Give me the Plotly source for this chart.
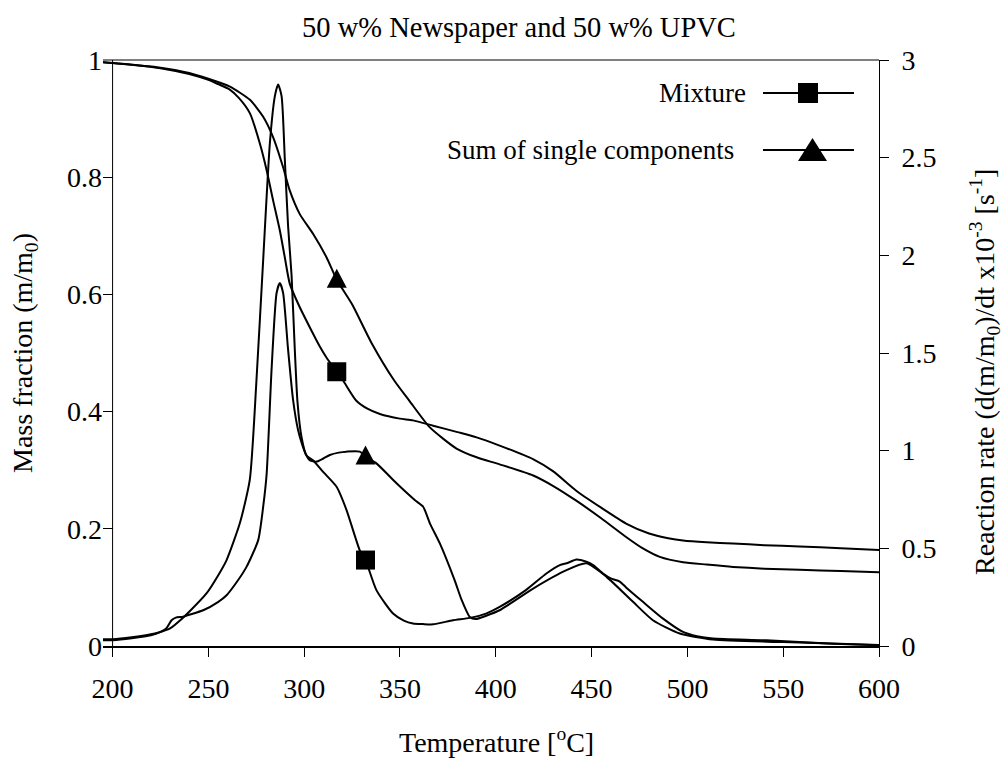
import numpy as np
import plotly.graph_objects as go

# ---- TG curves: mass fraction m/m0 vs temperature (degC) ----
T_mass_mix = [195, 210, 225, 240, 250, 255, 261, 266, 271.7, 276.9, 280.4, 283.8,
              287.3, 289.9, 292.5, 297.7, 302.9, 308, 311.7, 317, 320.3, 327.1,
              333, 339.5, 349.9, 356.8, 367.3, 380, 390, 402, 419.4, 430, 442,
              455, 468, 480, 490, 497.7, 510, 523.8, 540, 558.6, 580, 600]
mass_mix = [0.996, 0.992, 0.986, 0.976, 0.966, 0.959, 0.950, 0.935, 0.909, 0.857,
            0.812, 0.760, 0.709, 0.663, 0.618, 0.578, 0.544, 0.512, 0.492, 0.468,
            0.453, 0.419, 0.405, 0.396, 0.388, 0.385, 0.376, 0.365, 0.356, 0.342,
            0.319, 0.298, 0.265, 0.236, 0.209, 0.192, 0.184, 0.180, 0.177, 0.175,
            0.172, 0.170, 0.167, 0.164]

T_mass_sum = [195, 210, 225, 240, 250, 261, 271.7, 278.6, 283.8, 289, 292.5,
              297.7, 304.7, 311.7, 317, 325, 335, 347, 355, 365.6, 379.5, 390,
              402, 419.5, 430, 442, 455, 468, 477, 485.6, 497.7, 510, 523.8, 540,
              558.6, 580, 600]
mass_sum = [0.996, 0.992, 0.987, 0.978, 0.968, 0.955, 0.932, 0.903, 0.868, 0.817,
            0.777, 0.737, 0.703, 0.663, 0.625, 0.583, 0.518, 0.453, 0.418, 0.373,
            0.337, 0.322, 0.310, 0.291, 0.273, 0.248, 0.218, 0.186, 0.166, 0.152,
            0.143, 0.139, 0.135, 0.132, 0.130, 0.128, 0.126]

# ---- DTG curves: reaction rate d(m/m0)/dt x10^-3 [1/s] ----
T_rate_mix = [195, 200, 210, 220, 225, 230, 236.8, 240, 249, 255, 259.5, 266.4,
              271.6, 275.1, 278.6, 282.1, 284.7, 286.4, 288.2, 289.9, 291.6,
              293.4, 295.1, 296.5, 298.6, 301.2, 304.7, 310, 316.9, 322.1, 329,
              332, 337.7, 346.4, 352, 356.8, 362, 367.3, 377.7, 386.4, 394.9, 402,
              415.7, 426.4, 433.4, 437.5, 442.1, 447.3, 450.8, 456, 460, 464.7,
              468, 476.8, 487.3, 497.7, 505, 513.4, 541.2, 576, 600]
rate_mix = [0.035, 0.035, 0.045, 0.060, 0.072, 0.090, 0.145, 0.175, 0.269, 0.360,
            0.440, 0.628, 0.850, 1.362, 1.977, 2.576, 2.815, 2.875, 2.815, 2.490,
            2.149, 1.900, 1.517, 1.250, 1.070, 0.975, 0.950, 0.890, 0.815, 0.696,
            0.490, 0.440, 0.286, 0.166, 0.130, 0.115, 0.112, 0.111, 0.132, 0.144,
            0.166, 0.200, 0.286, 0.371, 0.414, 0.425, 0.443, 0.431, 0.414, 0.371,
            0.346, 0.330, 0.300, 0.226, 0.140, 0.072, 0.050, 0.038, 0.029, 0.012,
            0.004]

T_rate_sum = [195, 200, 210, 220, 225, 228, 230.8, 233, 236.8, 240, 247.3, 255,
              259.5, 265, 269.9, 276, 278.6, 280.4, 283, 285.6, 287.3, 289, 291.6,
              294.2, 296.8, 299, 301.2, 303, 306.4, 310, 313.4, 318, 322.1, 329,
              332, 337.7, 348.2, 358, 362.1, 365.6, 370.8, 378.5, 382, 386.4,
              389.5, 395, 402, 419.5, 436.9, 447.3, 457.8, 471.6, 482, 496, 513.4,
              550, 600]
rate_sum = [0.030, 0.030, 0.040, 0.055, 0.072, 0.090, 0.132, 0.145, 0.150, 0.160,
            0.183, 0.225, 0.260, 0.330, 0.405, 0.542, 0.713, 0.880, 1.420, 1.807,
            1.858, 1.807, 1.517, 1.260, 1.106, 1.030, 0.975, 0.950, 0.944, 0.960,
            0.978, 0.990, 0.995, 0.995, 0.970, 0.935, 0.833, 0.745, 0.713, 0.628,
            0.525, 0.337, 0.240, 0.149, 0.138, 0.155, 0.183, 0.294, 0.388, 0.423,
            0.354, 0.226, 0.132, 0.064, 0.033, 0.020, 0.005]

# temperatures at which series symbols sit on the curves
mark_T_mass = 317
mark_T_rate = 332

x_ticks = [200, 250, 300, 350, 400, 450, 500, 550, 600]
y_left_ticks = [0, 0.2, 0.4, 0.6, 0.8, 1]
y_left_labels = ["0", "0.2", "0.4", "0.6", "0.8", "1"]
y_right_ticks = [0, 0.5, 1, 1.5, 2, 2.5, 3]
y_right_labels = ["0", "0.5", "1", "1.5", "2", "2.5", "3"]

FONT = "Liberation Serif"
LINE = dict(color="black", width=2, shape="spline", smoothing=0.6)

fig = go.Figure()
fig.add_trace(go.Scatter(x=T_mass_mix, y=mass_mix, mode="lines", line=LINE, yaxis="y"))
fig.add_trace(go.Scatter(x=T_mass_sum, y=mass_sum, mode="lines", line=LINE, yaxis="y"))
fig.add_trace(go.Scatter(x=T_rate_mix, y=rate_mix, mode="lines", line=LINE, yaxis="y2"))
fig.add_trace(go.Scatter(x=T_rate_sum, y=rate_sum, mode="lines", line=LINE, yaxis="y2"))

# square symbols on the mixture curves
fig.add_trace(go.Scatter(x=[mark_T_mass], y=[np.interp(mark_T_mass, T_mass_mix, mass_mix)],
                         mode="markers", yaxis="y",
                         marker=dict(symbol="square", size=19, color="black")))
fig.add_trace(go.Scatter(x=[mark_T_rate], y=[np.interp(mark_T_rate, T_rate_mix, rate_mix)],
                         mode="markers", yaxis="y2",
                         marker=dict(symbol="square", size=19, color="black")))

shapes = []


def triangle(xanchor, yanchor, xref, yref, half_w, up, down):
    return dict(type="path", xref=xref, yref=yref, xsizemode="pixel", ysizemode="pixel",
                xanchor=xanchor, yanchor=yanchor,
                path=f"M{-half_w},{-down} L{half_w},{-down} L0,{up} Z",
                fillcolor="black", line=dict(color="black", width=0))


# triangle symbols on the summed-component curves
shapes.append(triangle(mark_T_mass, float(np.interp(mark_T_mass, T_mass_sum, mass_sum)),
                       "x", "y", 10, 11, 8))
shapes.append(triangle(mark_T_rate, float(np.interp(mark_T_rate, T_rate_sum, rate_sum)),
                       "x", "y2", 10, 11, 8))

# y-axis line at the first temperature tick and top frame line
shapes.append(dict(type="line", xref="x", yref="paper", x0=200, x1=200, y0=0, y1=1,
                   line=dict(color="black", width=1)))
shapes.append(dict(type="line", xref="paper", yref="paper", x0=0, x1=1, y0=1, y1=1,
                   line=dict(color="black", width=1)))

# legend glyphs (text on the left, line + symbol on the right)
W, H, L, T0 = 1005, 758, 103, 60
PW, PH = 776, 586


def px(x):
    return (x - L) / PW


def py(y):
    return (T0 + PH - y) / PH


for yy in (93, 150):
    shapes.append(dict(type="line", xref="paper", yref="paper", x0=px(763), x1=px(854),
                       y0=py(yy), y1=py(yy), line=dict(color="black", width=2)))
shapes.append(dict(type="rect", xref="paper", yref="paper", xsizemode="pixel",
                   ysizemode="pixel", xanchor=px(808), yanchor=py(93),
                   x0=-10, x1=10, y0=-10, y1=10, fillcolor="black",
                   line=dict(color="black", width=0)))
shapes.append(triangle(px(812.5), py(150), "paper", "paper", 14.5, 12, 11))

annotations = [
    dict(text="Mixture", xref="paper", yref="paper", x=px(748), y=py(93),
         xanchor="right", yanchor="middle", showarrow=False, font=dict(size=27)),
    dict(text="Sum of single components", xref="paper", yref="paper", x=px(736), y=py(150),
         xanchor="right", yanchor="middle", showarrow=False, font=dict(size=27)),
    dict(text="Temperature [<sup>o</sup>C]", xref="paper", yref="paper", x=px(496), y=py(740),
         xanchor="center", yanchor="middle", showarrow=False, font=dict(size=28)),
    dict(text="Mass fraction (m/m<sub>0</sub>)", xref="paper", yref="paper", x=px(24), y=0.5,
         xanchor="center", yanchor="middle", textangle=-90, showarrow=False,
         font=dict(size=28)),
    dict(text="Reaction rate (d(m/m<sub>0</sub>)/dt x10<sup>-3</sup> [s<sup>-1</sup>]",
         xref="paper", yref="paper", x=px(985), y=py(372), xanchor="center",
         yanchor="middle", textangle=-90, showarrow=False, font=dict(size=28)),
]

TICKFONT = dict(family=FONT, size=28, color="black")

fig.update_layout(
    width=W, height=H,
    margin=dict(l=L, r=W - L - PW, t=T0, b=H - T0 - PH),
    paper_bgcolor="white", plot_bgcolor="white", showlegend=False,
    font=dict(family=FONT, size=27, color="black"),
    title=dict(text="50 w% Newspaper and 50 w% UPVC", x=519 / W, xanchor="center",
               y=1 - 27 / H, yanchor="middle", font=dict(size=28.5)),
    xaxis=dict(range=[195, 600], tickvals=x_ticks, ticks="outside", ticklen=9,
               tickwidth=1, tickcolor="black", showline=True, linewidth=2,
               linecolor="black", showgrid=False, zeroline=False,
               tickfont=TICKFONT, ticklabelstandoff=7),
    yaxis=dict(range=[0, 1], tickvals=y_left_ticks, ticktext=y_left_labels,
               ticks="inside", ticklen=10, tickwidth=1, tickcolor="black",
               showline=False, showgrid=False, zeroline=False, tickfont=TICKFONT),
    yaxis2=dict(range=[0, 3], tickvals=y_right_ticks, ticktext=y_right_labels,
                overlaying="y", side="right", ticks="outside", ticklen=9, tickwidth=1,
                tickcolor="black", showline=True, linewidth=1, linecolor="black",
                showgrid=False, zeroline=False, tickfont=TICKFONT, ticklabelstandoff=7),
    shapes=shapes, annotations=annotations,
)

fig.write_html("out.html")
